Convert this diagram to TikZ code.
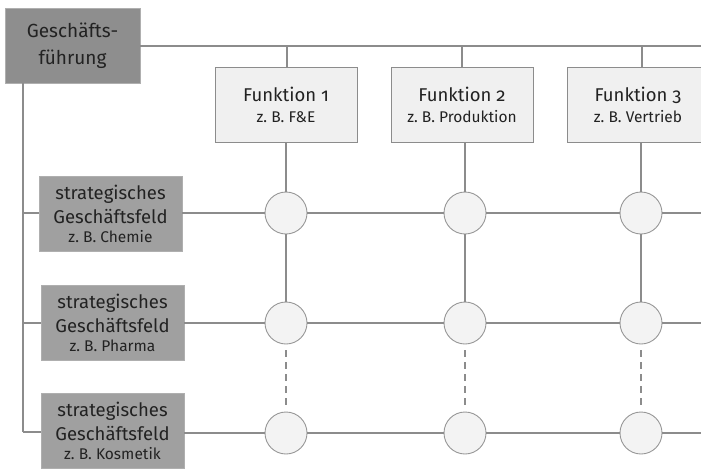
\documentclass[tikz,border=0pt]{standalone}
\usepackage{fontspec}
\setmainfont{Fira Sans}[Numbers=OldStyle]
\frenchspacing
\definecolor{linegray}{HTML}{8C8C8C}
\definecolor{darkbox}{HTML}{8E8E8E}
\definecolor{midbox}{HTML}{A0A0A0}
\definecolor{lightbox}{HTML}{F0F0F0}
\definecolor{circfill}{HTML}{F3F3F3}
\definecolor{txt}{HTML}{222222}
\begin{document}
\begin{tikzpicture}[x=1pt,y=-1pt,
  conn/.style={draw=linegray,line width=1.6pt},
  dconn/.style={conn,dash pattern=on 7pt off 5pt,shorten <=6pt,shorten >=4pt},
  gfbox/.style={draw=linegray!70,line width=0.6pt,fill=darkbox,minimum width=135pt,minimum height=75pt,align=center,text=txt,font=\fontsize{19}{27}\selectfont\frenchspacing,inner sep=0pt},
  funcbox/.style={draw=linegray,line width=0.8pt,fill=lightbox,minimum width=142pt,minimum height=75pt,align=center,text=txt,font=\fontsize{18.5}{22}\selectfont\frenchspacing,inner sep=0pt},
  sgfbox/.style={draw=linegray!70,line width=0.6pt,fill=midbox,minimum width=143pt,minimum height=75pt,align=center,text=txt,font=\fontsize{18.5}{24}\selectfont\frenchspacing,inner sep=0pt},
  cell/.style={circle,draw=linegray!90,line width=0.9pt,fill=circfill,minimum size=42pt,inner sep=0pt}
]
\useasboundingbox (0,0) rectangle (701,469);
% Geschaeftsfuehrung
\node[gfbox] (gf) at (72.5,45.5) {Geschäfts-\\führung};
% Functions
\node[funcbox] (f1) at (286,104.5) {Funktion 1\\[-1pt]{\fontsize{15.5}{18}\selectfont z. B. F\&E}};
\node[funcbox] (f2) at (462,104.5) {Funktion 2\\[-1pt]{\fontsize{15.5}{18}\selectfont z. B. Produktion}};
\node[funcbox] (f3) at (638,104.5) {Funktion 3\\[-1pt]{\fontsize{15.5}{18}\selectfont z. B. Vertrieb}};
% business fields
\node[sgfbox] (s1) at (110.5,213.5) {strategisches\\Geschäftsfeld\\[-5pt]{\fontsize{15.5}{18}\selectfont z. B. Chemie}};
\node[sgfbox] (s2) at (112.5,322.5) {strategisches\\Geschäftsfeld\\[-5pt]{\fontsize{15.5}{18}\selectfont z. B. Pharma}};
\node[sgfbox] (s3) at (112.5,431) {strategisches\\Geschäftsfeld\\[-5pt]{\fontsize{15.5}{18}\selectfont z. B. Kosmetik}};
% coordinates
\coordinate (topR) at (701,46);
\coordinate (t1) at (287,46);
\coordinate (t2) at (462,46);
\coordinate (t3) at (642,46);
\coordinate (lv) at (23,83);
\coordinate (r1) at (23,213);
\coordinate (r2) at (23,323);
\coordinate (r3) at (23,432);
\coordinate (e1) at (701,213);
\coordinate (e2) at (701,323);
\coordinate (e3) at (701,433);
% circles
\node[cell] (c11) at (286,213) {};
\node[cell] (c12) at (465,213) {};
\node[cell] (c13) at (641,213) {};
\node[cell] (c21) at (286,323) {};
\node[cell] (c22) at (465,323) {};
\node[cell] (c23) at (641,323) {};
\node[cell] (c31) at (286,433) {};
\node[cell] (c32) at (465,433) {};
\node[cell] (c33) at (641,433) {};
% connectors
\draw[conn] (gf.east |- topR) -- (topR);
\draw[conn] (t1) -- (f1.north -| t1);
\draw[conn] (t2) -- (f2.north -| t2);
\draw[conn] (t3) -- (f3.north -| t3);
\draw[conn] (gf.south -| lv) -- (r3);
\draw[conn] (r1) -- (s1.west |- r1);
\draw[conn] (r2) -- (s2.west |- r2);
\draw[conn] (r3) -- (s3.west |- r3);
% rows
\draw[conn] (s1.east |- c11) -- (c11.west);
\draw[conn] (c11.east) -- (c12.west);
\draw[conn] (c12.east) -- (c13.west);
\draw[conn] (c13.east) -- (e1);
\draw[conn] (s2.east |- c21) -- (c21.west);
\draw[conn] (c21.east) -- (c22.west);
\draw[conn] (c22.east) -- (c23.west);
\draw[conn] (c23.east) -- (e2);
\draw[conn] (s3.east |- c31) -- (c31.west);
\draw[conn] (c31.east) -- (c32.west);
\draw[conn] (c32.east) -- (c33.west);
\draw[conn] (c33.east) -- (e3);
% columns
\draw[conn] (f1.south -| c11) -- (c11.north);
\draw[conn] (f2.south -| c12) -- (c12.north);
\draw[conn] (f3.south -| c13) -- (c13.north);
\draw[conn] (c11.south) -- (c21.north);
\draw[conn] (c12.south) -- (c22.north);
\draw[conn] (c13.south) -- (c23.north);
\draw[dconn] (c21.south) -- (c31.north);
\draw[dconn] (c22.south) -- (c32.north);
\draw[dconn] (c23.south) -- (c33.north);
\end{tikzpicture}
\end{document}
